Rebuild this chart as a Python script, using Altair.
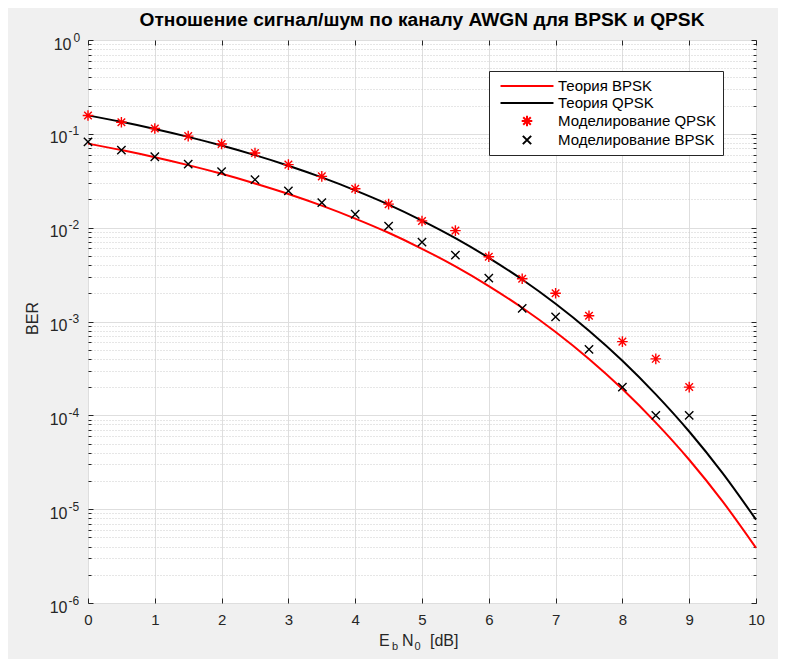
import altair as alt
import pandas as pd

TITLE = "Отношение сигнал/шум по каналу AWGN для BPSK и QPSK"
series_names = ["Теория BPSK", "Теория QPSK", "Моделирование QPSK", "Моделирование BPSK"]
series_colors = ["#ff0000", "#000000", "#ff0000", "#000000"]

ebn0_theory = [0, 0.5, 1, 1.5, 2, 2.5, 3, 3.5, 4, 4.5, 5, 5.5, 6, 6.5, 7, 7.5, 8, 8.5, 9, 9.5, 10]
ber_bpsk_theory = [0.07865, 0.0671, 0.0563, 0.0464, 0.0375, 0.0296, 0.02288, 0.01717, 0.0125, 0.00882,
                   0.005954, 0.00387, 0.002388, 0.0014, 0.0007727, 0.000399, 0.0001909, 8.37e-5,
                   3.363e-5, 1.21e-5, 3.872e-6]
ber_qpsk_theory = [0.1573, 0.1342, 0.1126, 0.0928, 0.075, 0.0593, 0.04576, 0.03434, 0.025, 0.01764,
                   0.01191, 0.00774, 0.004776, 0.0028, 0.001545, 0.000798, 0.0003818, 0.0001674,
                   6.726e-5, 2.42e-5, 7.744e-6]

ebn0_sim = [0, 0.5, 1, 1.5, 2, 2.5, 3, 3.5, 4, 4.5, 5, 5.5, 6, 6.5, 7, 7.5, 8, 8.5, 9]
ber_qpsk_sim = [0.157, 0.133, 0.114, 0.0945, 0.078, 0.0625, 0.047, 0.0352, 0.026, 0.0178, 0.0118,
                0.0093, 0.0049, 0.00285, 0.002, 0.00115, 0.00061, 0.0004, 0.0002]
ber_bpsk_sim = [0.082, 0.067, 0.057, 0.0475, 0.0395, 0.0325, 0.0247, 0.0185, 0.0139, 0.0104, 0.007,
                0.0051, 0.0029, 0.00138, 0.00112, 0.000505, 0.0002, 0.0001, 0.0001]

x_ticks = [0, 1, 2, 3, 4, 5, 6, 7, 8, 9, 10]
y_decades = [1e-6, 1e-5, 1e-4, 1e-3, 1e-2, 1e-1, 1]
y_minor = [float(f"{m}e{e}") for e in range(-6, 0) for m in range(2, 10)]
y_all = y_decades + y_minor

theory_df = pd.concat([
    pd.DataFrame({"x": ebn0_theory, "y": ber_bpsk_theory, "series": series_names[0]}),
    pd.DataFrame({"x": ebn0_theory, "y": ber_qpsk_theory, "series": series_names[1]}),
])
sim_df = pd.concat([
    pd.DataFrame({"x": ebn0_sim, "y": ber_qpsk_sim, "series": series_names[2]}),
    pd.DataFrame({"x": ebn0_sim, "y": ber_bpsk_sim, "series": series_names[3]}),
])

W, H = 668, 563
FONT = "Liberation Sans"
AX = "#262626"
DEC = "abs(log(datum.value)/LN10 - round(log(datum.value)/LN10)) < 0.001"

LINE = "M-3.5,0L3.5,0"
AST = "M-0.7,0L0.7,0M0,-0.7L0,0.7M-0.5,-0.5L0.5,0.5M-0.5,0.5L0.5,-0.5"
CROSS = "M-0.55,-0.55L0.55,0.55M-0.55,0.55L0.55,-0.55"
series_shapes = [LINE, LINE, AST, CROSS]

xs = alt.Scale(domain=[0, 10], nice=False, zero=False)
ys = alt.Scale(type="log", domain=[1e-6, 1], nice=False)


def ax(**kw):
    base = dict(title=None, labels=False, ticks=False, domain=False, grid=False,
                labelFlush=False, labelOverlap=False, tickSize=0)
    base.update(kw)
    return alt.Axis(**base)


LEG = alt.Legend(title=None, orient="none", legendX=401, legendY=31, direction="vertical",
                 fillColor="white", strokeColor=AX, padding=6, labelFont=FONT, labelFontSize=15,
                 labelColor="black", symbolSize=229, symbolStrokeWidth=2, symbolOffset=23,
                 labelOffset=22, rowPadding=0, labelLimit=0)

color = alt.Color("series:N", scale=alt.Scale(domain=series_names, range=series_colors), legend=LEG)
shape = alt.Shape("series:N", scale=alt.Scale(domain=series_names, range=series_shapes), legend=LEG)

tick_cond = {"condition": {"test": DEC, "value": 5}, "value": 3}

lines = alt.Chart(theory_df).mark_line(strokeWidth=2, interpolate="monotone").encode(
    x=alt.X("x:Q", scale=xs, axis=ax(orient="bottom", values=x_ticks, grid=True, gridColor="#dedede",
                                     labels=True, labelFont=FONT, labelFontSize=15, labelColor=AX,
                                     labelPadding=9, format="d")),
    y=alt.Y("y:Q", scale=ys, axis=ax(orient="left", values=y_all, grid=True,
                                     gridColor={"condition": {"test": DEC, "value": "#dedede"}, "value": "#cdcdcd"},
                                     gridDash={"condition": {"test": DEC, "value": []}, "value": [1, 2]},
                                     title="BER", titleFont=FONT, titleFontSize=16, titleFontWeight="normal",
                                     titleColor=AX, titleX=-56, titleY=278, titleAngle=270,
                                     titleAlign="center", titleBaseline="middle")),
    color=color,
)

points = alt.Chart(sim_df).mark_point(filled=False, size=229, strokeWidth=1.4, opacity=1).encode(
    x=alt.X("x:Q", scale=xs, axis=ax(orient="top", offset=-H, values=x_ticks, ticks=True, tickSize=5,
                                     tickColor=AX)),
    y=alt.Y("y:Q", scale=ys, axis=ax(orient="left", values=y_decades, labels=True, labelExpr="'10'",
                                     labelFont=FONT, labelFontSize=16, labelColor=AX, labelAlign="right",
                                     labelBaseline="middle",
                                     labelPadding={"condition": {"test": "datum.value >= 1", "value": 17}, "value": 21},
                                     labelOffset=4)),
    color=color,
    shape=shape,
)

carrier1 = alt.Chart(theory_df).mark_line(opacity=0).encode(
    x=alt.X("x:Q", scale=xs, axis=ax(orient="bottom", offset=-H, values=x_ticks, ticks=True, tickSize=5,
                                     tickColor=AX)),
    y=alt.Y("y:Q", scale=ys, axis=ax(orient="left", values=y_decades, labels=True,
                                     labelExpr="'' + round(log(datum.value)/LN10)",
                                     labelFont=FONT, labelFontSize=12, labelColor=AX, labelAlign="left",
                                     labelBaseline="middle",
                                     labelPadding={"condition": {"test": "datum.value >= 1", "value": 15}, "value": 20},
                                     labelOffset=-3)),
)

carrier2 = alt.Chart(theory_df).mark_line(opacity=0).encode(
    x=alt.X("x:Q", scale=xs, axis=None),
    y=alt.Y("y:Q", scale=ys, axis=ax(orient="right", offset=-W, values=y_all, ticks=True,
                                     tickSize=tick_cond, tickColor=AX)),
)

carrier3 = alt.Chart(theory_df).mark_line(opacity=0).encode(
    x=alt.X("x:Q", scale=xs, axis=None),
    y=alt.Y("y:Q", scale=ys, axis=ax(orient="left", offset=-W, values=y_all, ticks=True,
                                     tickSize=tick_cond, tickColor=AX)),
)

one = pd.DataFrame({"k": [0]})


def label(txt, x, y, size, weight="normal", align="left", color=AX):
    return alt.Chart(one).mark_text(text=txt, font=FONT, fontSize=size, fontWeight=weight, color=color,
                                    align=align, baseline="middle").encode(x=alt.value(x), y=alt.value(y))


texts = [
    label(TITLE, W / 2, -20, 19.2, weight="bold", align="center", color="black"),
    label("E", 291, 601, 16),
    label("b", 304, 607, 11),
    label("N", 314, 601, 16),
    label("0", 326.5, 607, 11),
    label("[dB]", 342, 601, 16),
]

chart = alt.layer(lines, points, carrier1, carrier2, carrier3, *texts).resolve_axis(
    x="independent", y="independent"
).properties(
    width=W, height=H,
    autosize=alt.AutoSizeParams(type="none"),
    padding={"left": 80, "top": 32, "right": 22, "bottom": 56},
    background="#f0f0f0",
).configure_view(fill="white", stroke=AX, strokeWidth=1)

chart.save("out.html", embed_options={"renderer": "svg", "actions": False})
